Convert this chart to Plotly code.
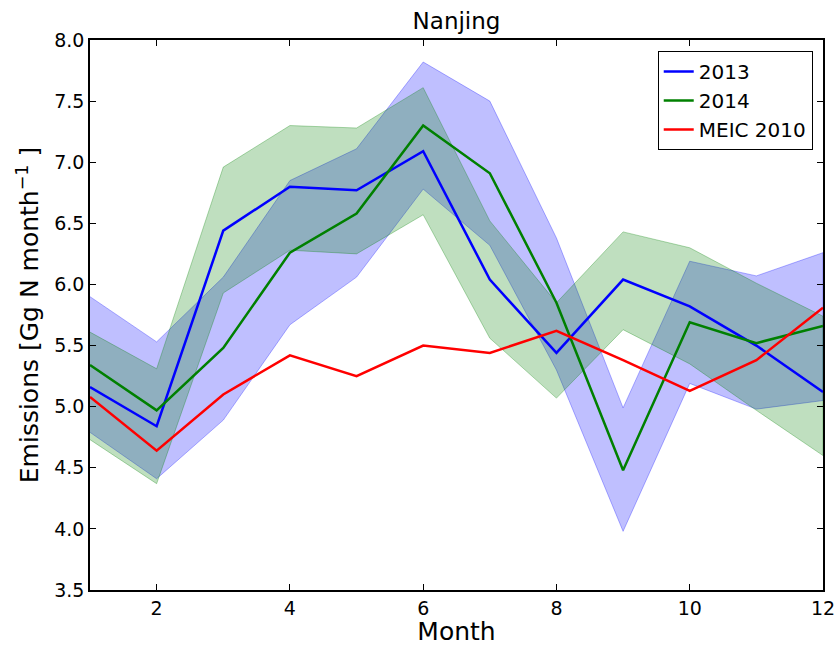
import plotly.graph_objects as go

months = [1, 2, 3, 4, 5, 6, 7, 8, 9, 10, 11, 12]

em_2013 = [5.16, 4.84, 6.44, 6.80, 6.77, 7.09, 6.04, 5.44, 6.04, 5.82, 5.50, 5.12]
em_2013_upper = [5.90, 5.53, 6.06, 6.85, 7.11, 7.82, 7.50, 6.38, 4.99, 6.19, 6.07, 6.26]
em_2013_lower = [4.79, 4.41, 4.89, 5.67, 6.06, 6.78, 6.32, 5.30, 3.98, 5.19, 4.98, 5.05]

em_2014 = [5.34, 4.97, 5.48, 6.26, 6.58, 7.30, 6.91, 5.85, 4.48, 5.69, 5.52, 5.66]
em_2014_upper = [5.61, 5.31, 6.96, 7.30, 7.28, 7.61, 6.52, 5.85, 6.43, 6.30, 6.01, 5.74]
em_2014_lower = [4.73, 4.37, 5.93, 6.28, 6.25, 6.57, 5.56, 5.07, 5.63, 5.35, 4.97, 4.60]

meic_2010 = [5.08, 4.64, 5.10, 5.42, 5.25, 5.50, 5.44, 5.62, 5.38, 5.13, 5.38, 5.81]

x_ticks = [2, 4, 6, 8, 10, 12]

FONT = "DejaVu Sans"

fig = go.Figure()

def band(upper, lower, rgb):
    fig.add_trace(go.Scatter(
        x=months + months[::-1],
        y=upper + lower[::-1],
        fill="toself",
        fillcolor=f"rgba({rgb},0.25)",
        line=dict(color=f"rgba({rgb},0.3)", width=1),
        mode="lines",
        hoverinfo="skip",
        showlegend=False,
    ))

band(em_2013_upper, em_2013_lower, "0,0,255")
band(em_2014_upper, em_2014_lower, "0,128,0")

fig.add_trace(go.Scatter(x=months, y=em_2013, mode="lines", name="2013",
                         line=dict(color="#0000ff", width=2.5)))
fig.add_trace(go.Scatter(x=months, y=em_2014, mode="lines", name="2014",
                         line=dict(color="#008000", width=2.5)))
fig.add_trace(go.Scatter(x=months, y=meic_2010, mode="lines", name="MEIC 2010",
                         line=dict(color="#ff0000", width=2.5)))

fig.update_layout(
    width=839, height=646,
    margin=dict(l=90, r=16, t=40, b=56),
    paper_bgcolor="white",
    plot_bgcolor="white",
    font=dict(family=FONT, color="black", size=19),
    title=dict(text="Nanjing", x=0.5, xref="paper", xanchor="center",
               y=1 - 21 / 646, yref="container", yanchor="middle",
               font=dict(size=23, family=FONT, color="black")),
    legend=dict(x=0.986, xanchor="right", y=0.98, yanchor="top",
                bordercolor="black", borderwidth=1, bgcolor="white",
                entrywidth=185, entrywidthmode="pixels",
                font=dict(size=20, family=FONT)),
    showlegend=True,
)

fig.update_xaxes(
    range=[1, 12], tickvals=x_ticks, ticks="inside", ticklen=6,
    tickcolor="black", showline=True, linecolor="black", linewidth=1.5,
    mirror="allticks", showgrid=False, zeroline=False, automargin=False,
    tickfont=dict(size=19, family=FONT),
    title=dict(text="Month", font=dict(size=25, family=FONT), standoff=4),
)
fig.update_yaxes(
    range=[3.5, 8.0], dtick=0.5, tick0=3.5, tickformat=".1f", ticks="inside",
    ticklen=6, tickcolor="black", showline=True, linecolor="black",
    linewidth=1.5, mirror="allticks", showgrid=False, zeroline=False,
    automargin=False,
    tickfont=dict(size=19, family=FONT),
    title=dict(text="Emissions [Gg N month<sup>−1</sup> ]",
               font=dict(size=25, family=FONT), standoff=8),
)

fig.write_html("out.html")
